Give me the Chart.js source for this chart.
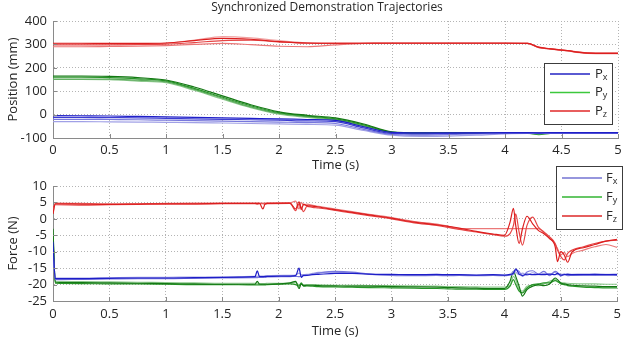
<!DOCTYPE html>
<html>
<head>
<meta charset="utf-8">
<script src="https://cdn.jsdelivr.net/npm/chart.js@4.4.1/dist/chart.umd.min.js"></script>
<style>
body { margin: 0; background: #fff; }
#wrap { position: relative; width: 626px; height: 343px; }
#top { position: absolute; left: 0; top: 0; width: 626px; height: 174px; }
#bot { position: absolute; left: 0; top: 160px; width: 626px; height: 183px; }
</style>
</head>
<body>
<div id="wrap">
  <div id="top"><canvas id="posChart"></canvas></div>
  <div id="bot"><canvas id="forceChart"></canvas></div>
</div>
<script>
////////////////////// DATA //////////////////////
var chartTitle = 'Synchronized Demonstration Trajectories';
var timeTicks = ['0', '0.5', '1', '1.5', '2', '2.5', '3', '3.5', '4', '4.5', '5'];
var posTicks = ['-100', '0', '100', '200', '300', '400'];
var forceTicks = ['-25', '-20', '-15', '-10', '-5', '0', '5', '10'];
var posLegend = ['Px', 'Py', 'Pz'];
var forceLegend = ['Fx', 'Fy', 'Fz'];

// position trajectories (mm), 4 demos each
var tPos = [0, 0.25, 0.5, 0.75, 1, 1.25, 1.5, 1.75, 2, 2.25, 2.5, 2.75, 3, 3.25, 3.5, 3.75, 4, 4.2, 4.3, 4.4, 4.55, 4.7, 4.85, 5];

var px1 = [-4, -5, -6, -8, -10, -12, -14, -16, -18, -21, -25, -52, -76, -78, -78, -78, -77, -77, -78, -77, -77, -77, -77, -77];
var px2 = [-12, -12, -13, -14, -16, -18, -20, -22, -24, -27, -30, -57, -80, -82, -80, -79, -78, -78, -79, -78, -78, -78, -78, -78];
var px3 = [-20, -20, -21, -22, -24, -26, -28, -30, -32, -34, -38, -63, -85, -88, -86, -82, -80, -79, -80, -79, -79, -79, -79, -79];
var px4 = [-30, -30, -31, -32, -33, -34, -36, -38, -40, -42, -45, -68, -88, -93, -92, -88, -82, -80, -81, -80, -80, -80, -80, -80];

var py1 = [165, 165, 163, 158, 148, 118, 80, 42, 12, -3, -14, -40, -74, -78, -78, -78, -78, -78, -80, -78, -78, -78, -78, -78];
var py2 = [160, 160, 158, 153, 144, 112, 74, 38, 8, -6, -18, -44, -76, -79, -79, -79, -79, -79, -86, -80, -79, -79, -79, -79];
var py3 = [152, 152, 152, 147, 140, 108, 70, 33, 5, -9, -21, -48, -77, -80, -80, -80, -80, -80, -82, -80, -80, -80, -80, -80];
var py4 = [150, 150, 149, 143, 136, 104, 66, 30, 2, -12, -24, -51, -78, -81, -80, -80, -80, -80, -80, -80, -80, -80, -80, -80];

var pz1 = [305, 305, 304, 304, 306, 316, 326, 322, 312, 306, 305, 305, 305, 305, 305, 305, 305, 304, 287, 281, 273, 264, 262, 262];
var pz2 = [298, 298, 298, 299, 301, 308, 316, 318, 311, 305, 304, 305, 306, 306, 306, 306, 306, 305, 288, 282, 274, 265, 263, 263];
var pz3 = [290, 290, 291, 292, 295, 300, 304, 299, 292, 290, 298, 304, 305, 305, 305, 305, 305, 304, 286, 280, 272, 263, 261, 261];
var pz4 = [302, 302, 302, 303, 305, 318, 333, 328, 316, 307, 305, 305, 305, 305, 305, 305, 305, 303, 286, 281, 273, 264, 262, 262];

// force trajectories (N), 3 demos each
var tForce = [0, 0.02, 0.25, 0.5, 0.75, 1, 1.25, 1.5, 1.79, 1.81, 1.83, 1.86, 1.88, 1.9, 2.1,
  2.15, 2.18, 2.2, 2.22, 2.25, 2.3, 2.35, 2.5, 2.65, 2.8, 3, 3.2, 3.4, 3.5, 3.6,
  3.75, 3.9, 4, 4.05, 4.08, 4.1, 4.13, 4.16, 4.2, 4.25, 4.3, 4.35, 4.4, 4.45, 4.47,
  4.5, 4.53, 4.56, 4.6, 4.7, 4.8, 4.9, 5];

var fx1 = [-7.0, -18.2, -18.2, -18.1, -18.0, -18.0, -17.9, -17.8, -17.6, -15.8, -17.6, -17.6, -17.5, -17.5, -17.4,
  -17.3, -15.0, -17.8, -17.2, -17.2, -17.0, -16.9, -16.6, -16.6, -16.8, -16.9, -17.0, -16.9, -17.0, -17.0,
  -17.1, -17.0, -17.1, -16.9, -16.5, -15.2, -16.8, -17.2, -16.8, -17.0, -16.9, -17.0, -16.8, -17.0, -16.6,
  -17.1, -17.0, -16.9, -17.0, -17.0, -16.9, -17.0, -17.0];
var fx2 = [-9.0, -18.5, -18.4, -18.3, -18.2, -18.2, -18.1, -18.0, -17.9, -17.9, -17.8, -17.8, -17.8, -17.7, -17.6,
  -17.5, -17.6, -17.4, -17.3, -17.2, -16.8, -16.5, -16.0, -16.2, -16.8, -17.2, -17.3, -17.2, -17.3, -17.2,
  -17.3, -17.2, -17.3, -17.1, -16.8, -15.5, -16.0, -17.5, -16.2, -15.8, -16.8, -16.0, -17.3, -16.0, -16.3,
  -17.4, -16.8, -17.3, -17.2, -17.1, -17.2, -17.1, -17.2];
var fx3 = [-11.0, -18.0, -18.0, -17.9, -17.8, -17.8, -17.7, -17.7, -17.5, -17.5, -17.4, -17.4, -17.4, -17.3, -17.2,
  -17.1, -16.5, -17.0, -17.0, -16.9, -16.6, -16.3, -16.2, -16.5, -16.9, -17.0, -17.1, -17.1, -17.2, -17.1,
  -17.2, -17.1, -17.2, -17.0, -16.0, -16.2, -17.0, -16.5, -17.2, -16.4, -17.0, -16.6, -16.9, -16.2, -17.0,
  -16.8, -16.9, -16.7, -16.9, -16.8, -16.8, -16.9, -16.8];

var fy1 = [-3.0, -19.3, -19.4, -19.5, -19.6, -19.7, -19.8, -19.9, -19.9, -19.0, -19.9, -19.9, -19.9, -19.9, -19.5,
  -19.0, -21.2, -19.8, -20.3, -20.2, -20.2, -20.3, -20.4, -20.5, -20.5, -20.6, -20.7, -20.8, -20.9, -21.0,
  -21.1, -21.2, -21.2, -19.0, -16.0, -17.5, -20.5, -23.5, -21.5, -20.5, -20.0, -20.3, -19.8, -18.0, -18.5,
  -19.5, -19.8, -20.0, -20.2, -20.4, -20.5, -20.6, -20.6];
var fy2 = [-5.0, -19.6, -19.7, -19.8, -19.8, -19.9, -20.0, -20.0, -20.1, -20.1, -20.1, -20.1, -20.1, -20.0, -19.8,
  -20.0, -20.5, -19.5, -20.5, -20.4, -20.5, -20.6, -20.7, -20.8, -20.9, -21.0, -21.1, -21.2, -21.3, -21.4,
  -21.4, -21.5, -21.5, -20.5, -18.5, -20.0, -22.0, -22.5, -21.0, -20.0, -19.8, -19.5, -19.5, -18.8, -19.0,
  -19.8, -20.0, -20.3, -20.5, -20.8, -20.9, -21.0, -21.0];
var fy3 = [-4.0, -19.0, -19.1, -19.2, -19.3, -19.4, -19.5, -19.6, -19.6, -19.6, -19.7, -19.7, -19.7, -19.6, -19.6,
  -19.4, -20.0, -19.9, -20.1, -20.0, -20.0, -20.1, -20.2, -20.2, -20.3, -20.3, -20.4, -20.5, -20.6, -20.6,
  -20.7, -20.8, -20.8, -20.2, -17.5, -18.5, -21.5, -22.0, -20.5, -20.2, -20.3, -19.8, -19.0, -18.5, -19.2,
  -19.4, -19.5, -19.6, -19.7, -19.8, -19.8, -19.9, -19.9];

var fz1 = [1.5, 4.6, 4.5, 4.4, 4.5, 4.6, 4.6, 4.7, 4.7, 4.7, 4.7, 3.0, 4.6, 4.7, 4.8,
  3.0, 5.2, 2.8, 4.5, 4.0, 3.9, 3.6, 2.8, 2.0, 1.2, 0.2, -1.0, -1.8, -2.3, -2.8,
  -3.8, -4.6, -5.0, -1.0, 3.2, -2.0, -7.5, -3.0, 0.8, -1.5, -3.5, -4.5, -6.0, -8.5, -13.0,
  -10.0, -11.0, -13.2, -10.0, -8.8, -7.8, -6.8, -6.2];
var fz2 = [3.5, 4.3, 4.2, 4.3, 4.4, 4.5, 4.5, 4.6, 4.6, 4.5, 4.6, 4.6, 4.5, 4.6, 4.7,
  2.5, 4.5, 3.5, 2.2, 3.8, 3.5, 3.3, 2.6, 1.8, 1.0, 0.0, -1.2, -2.0, -2.6, -3.2,
  -4.0, -4.8, -5.3, -4.5, -2.0, 1.5, -4.0, -8.0, -2.0, 0.5, -2.5, -4.0, -5.5, -7.5, -9.5,
  -11.5, -12.5, -10.5, -9.5, -8.5, -7.5, -6.8, -6.5];
var fz3 = [2.0, 4.8, 4.7, 4.6, 4.6, 4.7, 4.8, 4.8, 4.8, 4.8, 4.8, 4.8, 4.8, 4.9, 4.9,
  5.4, 3.0, 5.0, 4.2, 4.5, 4.1, 3.8, 3.0, 2.2, 1.4, 0.4, -0.8, -1.6, -2.2, -3.0,
  null, null, null, null, null, null, null, null, null, null, -3.0, -4.2, -5.8, -7.8, -9.0,
  -11.0, -10.2, -11.5, -10.5, -9.5, -8.5, -7.8, -8.7];

////////////////////// STYLE //////////////////////
var ff = '"Open Sans", sans-serif';
var txt = '#262626';
var axisCol = '#8a8a8a';
var gridCol = '#b4b4b4';

function series(t, v, col, gaps) {
  return {
    data: t.map(function(x, i) { return { x: x, y: v[i] }; }),
    borderColor: col,
    borderWidth: 1.2,
    pointRadius: 0,
    spanGaps: !!gaps,
    cubicInterpolationMode: 'monotone',
    fill: false
  };
}

function xAxis(h, tickPad, titlePad) {
  return {
    type: 'linear', min: 0, max: 5,
    ticks: { stepSize: 0.5, padding: tickPad, color: txt, font: { size: 13, family: ff }, maxRotation: 0, autoSkip: false,
      callback: function(v, i) { return timeTicks[i]; } },
    grid: { color: gridCol, drawTicks: false },
    border: { color: axisCol, dash: [1, 2] },
    title: { display: true, text: 'Time (s)', color: txt, font: { size: 13, family: ff }, padding: { top: 0, bottom: titlePad } },
    afterFit: function(s) { s.height = h; }
  };
}

function yAxis(min, max, step, labels, name) {
  return {
    min: min, max: max,
    ticks: { stepSize: step, padding: 6, color: txt, font: { size: 13, family: ff }, autoSkip: false,
      callback: function(v, i) { return labels[i]; } },
    grid: { color: gridCol, drawTicks: false },
    border: { color: axisCol, dash: [1, 2] },
    title: { display: true, text: name, color: txt, font: { size: 13, family: ff }, padding: { top: 5.7, bottom: 0 } },
    afterFit: function(s) { s.width = 53; }
  };
}

var innerTicks = {
  id: 'innerTicks',
  afterDraw: function(chart) {
    var ctx = chart.ctx, a = chart.chartArea;
    var xs = chart.scales.x, ys = chart.scales.y;
    ctx.save();
    ctx.strokeStyle = axisCol;
    ctx.lineWidth = 1;
    ctx.beginPath();
    xs.ticks.forEach(function(t) {
      var p = Math.round(xs.getPixelForValue(t.value)) + 0.5;
      ctx.moveTo(p, a.bottom); ctx.lineTo(p, a.bottom - 4);
    });
    ys.ticks.forEach(function(t) {
      var p = Math.round(ys.getPixelForValue(t.value)) + 0.5;
      ctx.moveTo(a.left, p); ctx.lineTo(a.left + 4, p);
    });
    ctx.stroke();
    ctx.restore();
  }
};

var boxLegend = {
  id: 'boxLegend',
  afterDraw: function(chart, args, o) {
    var ctx = chart.ctx;
    ctx.save();
    ctx.fillStyle = '#fff';
    ctx.fillRect(o.x, o.y, o.w, o.h);
    ctx.strokeStyle = '#3c3c3c';
    ctx.lineWidth = 1;
    ctx.strokeRect(o.x + 0.5, o.y + 0.5, o.w, o.h);
    for (var i = 0; i < o.labels.length; i++) {
      var y = o.rows[i], lab = o.labels[i];
      ctx.strokeStyle = o.colors[i];
      ctx.lineWidth = 1.5;
      ctx.beginPath();
      ctx.moveTo(o.x0, y); ctx.lineTo(o.x1, y);
      ctx.stroke();
      ctx.fillStyle = txt;
      ctx.textAlign = 'left';
      ctx.textBaseline = 'middle';
      ctx.font = '13px ' + ff;
      ctx.fillText(lab.charAt(0), o.tx, y);
      var w = ctx.measureText(lab.charAt(0)).width;
      ctx.font = '9px ' + ff;
      ctx.fillText(lab.slice(1), o.tx + w, y + 3);
    }
    ctx.restore();
  }
};

var topTitle = {
  id: 'topTitle',
  afterDraw: function(chart, args, o) {
    if (!o.text) return;
    var ctx = chart.ctx;
    ctx.save();
    ctx.fillStyle = txt;
    ctx.font = '12px ' + ff;
    ctx.textAlign = 'center';
    ctx.textBaseline = 'middle';
    ctx.fillText(o.text, o.x, o.y);
    ctx.restore();
  }
};

////////////////////// CHARTS //////////////////////
var blues = ['#1e1ec8', '#3c3cd2', '#7878dc', '#a0a0e6'];
var greens = ['#147814', '#289628', '#5aaa5a', '#8cc88c'];
var reds = ['#dc1e1e', '#e64646', '#eb7878', '#f0a0a0'];

var posChart = new Chart('posChart', {
  type: 'line',
  data: {
    datasets: [
      series(tPos, px1, blues[0]), series(tPos, px2, blues[1]), series(tPos, px3, blues[2]), series(tPos, px4, blues[3]),
      series(tPos, py1, greens[0]), series(tPos, py2, greens[1]), series(tPos, py3, greens[2]), series(tPos, py4, greens[3]),
      series(tPos, pz1, reds[0]), series(tPos, pz2, reds[1]), series(tPos, pz3, reds[2]), series(tPos, pz4, reds[3])
    ]
  },
  options: {
    responsive: true,
    maintainAspectRatio: false,
    animation: false,
    layout: { padding: { top: 21, right: 8, left: 0, bottom: 0 } },
    scales: {
      x: xAxis(36, 4, 1.2),
      y: yAxis(-100, 400, 100, posTicks, 'Position (mm)')
    },
    plugins: {
      legend: { display: false },
      tooltip: { enabled: false },
      topTitle: { text: chartTitle, x: 327, y: 8 },
      boxLegend: { labels: posLegend, colors: ['#2323c3', '#3cc83c', '#e02828'],
        x: 544, y: 63, w: 68, h: 61, x0: 550, x1: 590, tx: 595, rows: [74, 92.5, 111] }
    }
  },
  plugins: [innerTicks, topTitle, boxLegend]
});

var forceChart = new Chart('forceChart', {
  type: 'line',
  data: {
    datasets: [
      series(tForce, fx1, blues[0]), series(tForce, fx2, blues[2]), series(tForce, fx3, blues[3]),
      series(tForce, fy1, greens[0]), series(tForce, fy2, greens[1]), series(tForce, fy3, greens[3]),
      series(tForce, fz1, reds[0]), series(tForce, fz2, reds[1]), series(tForce, fz3, reds[2], true)
    ]
  },
  options: {
    responsive: true,
    maintainAspectRatio: false,
    animation: false,
    elements: { line: { tension: 0 } },
    layout: { padding: { top: 26, right: 8, left: 0, bottom: 0 } },
    scales: {
      x: xAxis(42, 5, 4.2),
      y: yAxis(-25, 10, 5, forceTicks, 'Force (N)')
    },
    plugins: {
      legend: { display: false },
      tooltip: { enabled: false },
      boxLegend: { labels: forceLegend, colors: ['#7373d2', '#32b432', '#dc2828'],
        x: 556, y: 6, w: 66, h: 63, x0: 562, x1: 602, tx: 606, rows: [18, 37, 56] }
    }
  },
  plugins: [innerTicks, boxLegend]
});
</script>
</body>
</html>
